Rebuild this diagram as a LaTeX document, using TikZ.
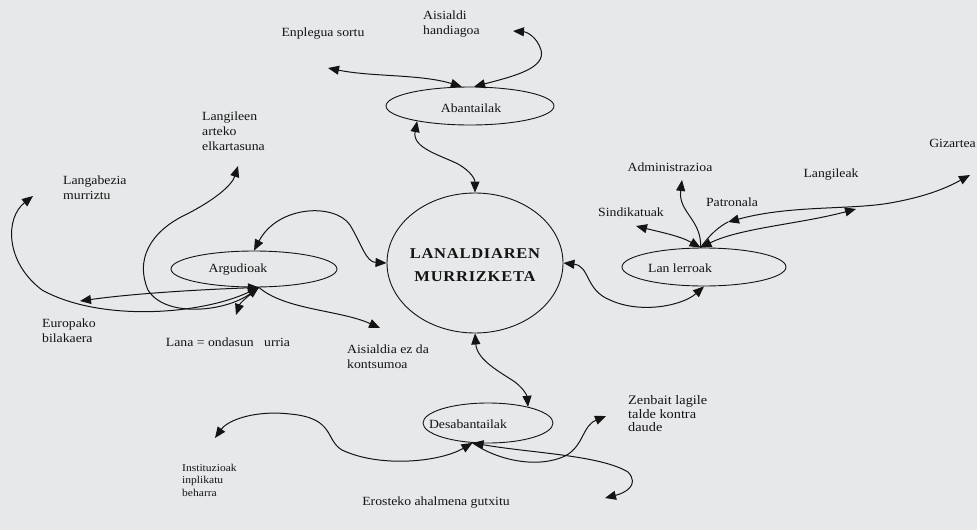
\documentclass[tikz,border=0pt]{standalone}
\usepackage{fontspec}
\setmainfont{Liberation Serif}[FakeStretch=1.1]
\usetikzlibrary{arrows.meta,shapes.geometric,positioning}
\tikzset{>={Triangle[length=11pt,width=9pt]}}
\definecolor{paper}{RGB}{231,232,234}
\definecolor{ink}{RGB}{20,20,20}
\newcommand\lblfont{\fontsize{12.5}{15}\selectfont}

\begin{document}
\begin{tikzpicture}[x=1pt,y=-1pt,
    oval/.style={draw=ink,ellipse,inner sep=0pt,line width=0.9pt},
    lbl/.style={font=\lblfont,text=ink,inner sep=0pt,align=left},
    link/.style={draw=ink,line width=1pt}]
  \clip (0,0) rectangle (977,530);
  \fill[paper] (0,0) rectangle (977,530);
  % ovals
  \node[oval,minimum width=176,minimum height=140] (lanaldia) at (475,263) {};
  \node[oval,minimum width=168,minimum height=38] (abantailak) at (470,106) {};
  \node[oval,minimum width=166,minimum height=36] (argudioak) at (254,269) {};
  \node[oval,minimum width=164,minimum height=38] (lanlerroak) at (704,267) {};
  \node[oval,minimum width=130,minimum height=40] (desabantailak) at (488,423) {};
  \node[lbl,align=center,font=\fontsize{15}{23}\selectfont\bfseries\addfontfeature{LetterSpace=5}] (lanaldiatxt) at (475,265) {LANALDIAREN\\MURRIZKETA};
  \node[lbl] (abantailaktxt) at (471,108) {Abantailak};
  \node[lbl] (argudioaktxt) at (238,270) {Argudioak};
  \node[lbl] (lanlerroaktxt) at (680,268) {Lan lerroak};
  \node[lbl] (desabantailaktxt) at (468,424) {Desabantailak};
  % labels
  \node[lbl] (enplegua) at (323,34) {Enplegua sortu};
  \node[lbl,anchor=west] (aisialdi) at (423,24) {Aisialdi\\handiagoa};
  \node[lbl,anchor=west] (langileen) at (202,131) {Langileen\\arteko\\elkartasuna};
  \node[lbl,anchor=west] (langabezia) at (63,188) {Langabezia\\murriztu};
  \node[lbl,anchor=west] (europako) at (42,331) {Europako\\bilakaera};
  \node[lbl] (lana) at (228,342) {Lana = ondasun \ \ urria};
  \node[lbl,anchor=west] (aisialdiez) at (347,357) {Aisialdia ez da\\kontsumoa};
  \node[lbl] (administrazioa) at (670,167) {Administrazioa};
  \node[lbl] (sindikatuak) at (631,212) {Sindikatuak};
  \node[lbl] (patronala) at (732,202) {Patronala};
  \node[lbl] (langileak) at (831,175) {Langileak};
  \node[lbl,anchor=east] (gizartea) at (976,143) {Gizartea};
  \node[lbl,anchor=west,font=\fontsize{13}{13.5}\selectfont] (zenbait) at (628,414) {Zenbait lagile\\talde kontra\\daude};
  \node[lbl,anchor=west,font=\fontsize{10.5}{12.5}\selectfont] (instituzioak) at (182,480) {Instituzioak\\inplikatu\\beharra};
  \node[lbl] (erosteko) at (436,503) {Erosteko ahalmena gutxitu};
  % free ends of the arrows
  \coordinate (tipenplegua) at (328,68);
  \coordinate (tipaisialdi) at (513,31);
  \coordinate (tiplangileen) at (238,166);
  \coordinate (tiplangabezia) at (33,196);
  \coordinate (tipeuropako) at (80,301);
  \coordinate (tiplana) at (236,315);
  \coordinate (tipaisialdiez) at (380,328);
  \coordinate (tipsindikatuak) at (636,226);
  \coordinate (tipadministrazioa) at (682,180);
  \coordinate (tippatronala) at (728,222);
  \coordinate (tipgizartea) at (970,175);
  \coordinate (tiplangileak) at (856,209);
  \coordinate (tipinstituzioak) at (215,438);
  \coordinate (tipzenbait) at (606,416);
  \coordinate (tiperosteko) at (605,498);
  % main links
  \draw[link,<->] (abantailak.196) .. controls (412,148) and (440,155) .. (458,164) .. controls (472,172) and (475,180) .. (lanaldia.north);
  \draw[link,<->] (argudioak.north) .. controls (278,205) and (335,203) .. (350,225) .. controls (362,245) and (366,262) .. (lanaldia.west);
  \draw[link,<->] (lanaldia.east) .. controls (590,266) and (585,290) .. (610,300) .. controls (640,314) and (682,306) .. (lanlerroak.south);
  \draw[link,<->] (lanaldia.south) .. controls (477,360) and (500,372) .. (515,382) .. controls (525,390) and (527,396) .. (desabantailak.22);
  % abantailak
  \draw[link,<->] (abantailak.113) .. controls (420,74) and (372,77) .. (tipenplegua);
  \draw[link,<->] (abantailak.78) .. controls (515,76) and (546,68) .. (541,50) .. controls (537,37) and (527,32) .. (tipaisialdi);
  % argudioak
  \draw[link,<->] (argudioak.285) .. controls (225,312) and (165,318) .. (148,290) .. controls (135,260) and (150,232) .. (185,215) .. controls (215,200) and (232,185) .. (tiplangileen);
  \draw[link,<->] (argudioak.285) .. controls (200,315) and (100,322) .. (42,290) .. controls (5,262) and (5,218) .. (tiplangabezia);
  \draw[link,<->] (argudioak.285) .. controls (190,290) and (130,294) .. (tipeuropako);
  \draw[link,->] (argudioak.285) .. controls (247,297) and (240,303) .. (tiplana);
  \draw[link,->] (argudioak.285) .. controls (285,310) and (340,310) .. (tipaisialdiez);
  % lan lerroak
  \draw[link,<->] (lanlerroak.100) .. controls (680,236) and (660,232) .. (tipsindikatuak);
  \draw[link,->] (lanlerroak.100) .. controls (702,220) and (678,212) .. (tipadministrazioa);
  \draw[link] (lanlerroak.100) .. controls (710,234) and (720,226) .. (tippatronala);
  \draw[link,<->] (tippatronala) .. controls (790,205) and (850,210) .. (890,203) .. controls (930,196) and (950,186) .. (tipgizartea);
  \draw[link,<->] (lanlerroak.100) .. controls (740,228) and (800,224) .. (tiplangileak);
  % desabantailak
  \draw[link,<->] (desabantailak.232) .. controls (440,462) and (380,468) .. (342,450) .. controls (325,440) and (335,418) .. (290,414) .. controls (255,410) and (228,420) .. (tipinstituzioak);
  \draw[link,->] (desabantailak.232) .. controls (500,462) and (540,468) .. (565,456) .. controls (584,446) and (582,426) .. (tipzenbait);
  \draw[link,<->] (desabantailak.232) .. controls (530,453) and (600,455) .. (628,472) .. controls (640,485) and (625,493) .. (tiperosteko);
\end{tikzpicture}
\end{document}
